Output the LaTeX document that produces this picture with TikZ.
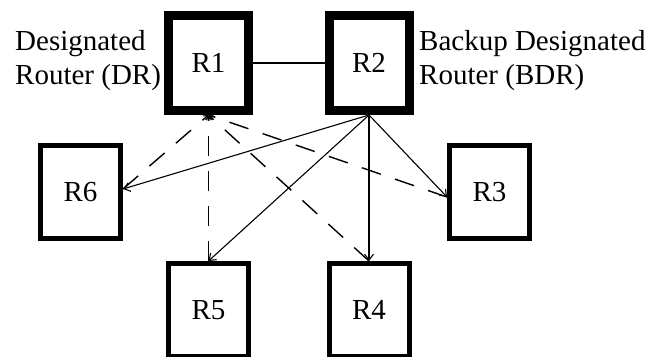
\documentclass[tikz,border=0pt]{standalone}
\usepackage{fontspec}
\setmainfont{Liberation Serif}
\usetikzlibrary{arrows.meta}
\begin{document}
\begin{tikzpicture}[x=1pt,y=-1pt,
  font=\fontsize{29}{34}\selectfont,
  router/.style={draw, line width=5pt, minimum width=80pt, minimum height=93pt, inner sep=0pt},
  keyrouter/.style={router, line width=9pt, minimum height=95pt},
  link/.style={line width=1.5pt},
  tolink/.style={line width=1.1pt, -{Straight Barb[length=6pt,width=9pt,line width=1.1pt]}},
  dashlink/.style={line width=1.4pt, dash pattern=on 20pt off 15pt,
    -{Straight Barb[length=4pt,width=6pt,line width=1pt]}},
  caption/.style={inner sep=0pt, anchor=base west}]
\clip (0,0) rectangle (652,356);

% routers
\node[keyrouter] (R1) at (208.5,63) {R1};
\node[keyrouter] (R2) at (369,63) {R2};
\node[router] (R6) at (80.5,192) {R6};
\node[router] (R3) at (489.5,192) {R3};
\node[router] (R5) at (208.5,310) {R5};
\node[router] (R4) at (369,310) {R4};

% role captions
\node[caption] (dr1) at (15,50) {Designated};
\node[caption] (dr2) at (15,84) {Router (DR)};
\node[caption] (bdr1) at (419,50) {Backup Designated};
\node[caption] (bdr2) at (419,84) {Router (BDR)};

% contact points on the side routers
\coordinate (p6) at ([yshift=3pt]R6.east);
\coordinate (p3) at ([yshift=-5pt]R3.west);

% DR -- BDR
\draw[link] (R1) -- (R2);

% BDR to every other router
\draw[tolink] (R2.south) -- (p6);
\draw[tolink] (R2.south) -- (R5.north);
\draw[tolink] (R2.south) -- (R4.north);
\draw[tolink] (R2.south) -- (p3);

% every other router to DR
\draw[dashlink] (p6) -- (R1.south);
\draw[dashlink] (R5.north) -- (R1.south);
\draw[dashlink] (R4.north) -- (R1.south);
\draw[dashlink] (p3) -- (R1.south);
\end{tikzpicture}
\end{document}
